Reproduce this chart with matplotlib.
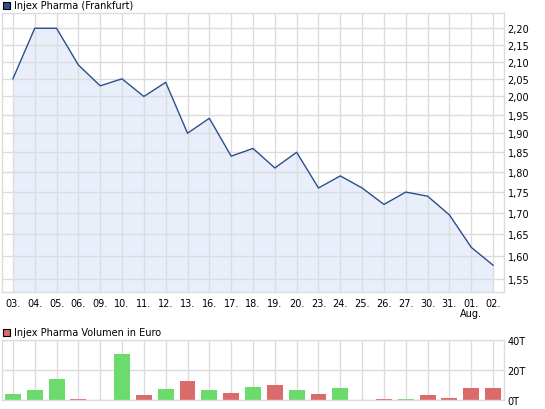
import matplotlib
matplotlib.use("Agg")
import matplotlib.pyplot as plt
from matplotlib.patches import Rectangle
from matplotlib.ticker import FixedLocator, FixedFormatter, NullLocator
import numpy as np

dates = ["03.", "04.", "05.", "06.", "09.", "10.", "11.", "12.", "13.", "16.", "17.", "18.",
         "19.", "20.", "23.", "24.", "25.", "26.", "27.", "30.", "31.", "01.\nAug.", "02."]
prices = [2.05, 2.20, 2.20, 2.09, 2.03, 2.05, 2.00, 2.04, 1.90, 1.94, 1.84, 1.86,
          1.81, 1.85, 1.76, 1.79, 1.76, 1.72, 1.75, 1.74, 1.695, 1.62, 1.58]
volumes = [4000, 6700, 14000, 700, 0, 30700, 3300, 7300, 12700, 6700, 4700, 8700,
           10000, 6700, 4000, 8000, 0, 700, 700, 3300, 1300, 8000, 8000]
vol_up = [True, True, True, False, True, True, False, True, False, True, False, True,
          False, True, False, True, True, False, True, False, False, False, False]
price_ticks = [1.55, 1.60, 1.65, 1.70, 1.75, 1.80, 1.85, 1.90, 1.95, 2.00, 2.05, 2.10, 2.15, 2.20]
price_labels = ["1,55", "1,60", "1,65", "1,70", "1,75", "1,80", "1,85", "1,90", "1,95",
                "2,00", "2,05", "2,10", "2,15", "2,20"]
vol_ticks = [0, 20000, 40000]
vol_labels = ["0T", "20T", "40T"]

W, H = 545, 410
fig = plt.figure(figsize=(W / 100, H / 100), dpi=100)
plt.rcParams['font.family'] = ['DejaVu Sans']

GRID = "#DCDCDC"
LINE = "#2B4F8E"
FILL = "#E8EFFA"
GREEN = "#6BDB6B"
RED = "#DB6B6B"

def px_axes(left, top, right, bottom):
    return fig.add_axes([left / W, 1 - bottom / H, (right - left) / W, (bottom - top) / H])

x = np.arange(len(dates))

# Price chart
ax = px_axes(2, 13.5, 504, 293)
ax.set_yscale("log")
ymin, ymax = 1.522, 2.249
ax.fill_between(x, prices, ymin, color=FILL, zorder=1, linewidth=0)
ax.plot(x, prices, color=LINE, lw=1.0, zorder=2)
ax.set_xlim(-0.5, len(dates) - 0.5)
ax.set_ylim(ymin, ymax)
ax.yaxis.set_major_locator(FixedLocator(price_ticks))
ax.yaxis.set_major_formatter(FixedFormatter(price_labels))
ax.yaxis.set_minor_locator(NullLocator())
ax.set_xticks(x)
ax.set_xticklabels(dates, fontsize=7, linespacing=1.0)
ax.yaxis.tick_right()
ax.tick_params(axis="y", length=0, pad=2.5, labelsize=7)
ax.tick_params(axis="x", length=0, pad=4, labelsize=7)
ax.set_axisbelow("line")
ax.grid(True, color=GRID, lw=1)
for s in ax.spines.values():
    s.set_color(GRID)
    s.set_linewidth(1)

# Volume chart
av = px_axes(2, 341, 504, 401)
colors = [GREEN if u else RED for u in vol_up]
av.bar(x, volumes, width=0.73, color=colors, zorder=2)
av.set_xlim(-0.5, len(dates) - 0.5)
av.set_ylim(0, 40000)
av.set_xticks(x)
av.set_xticklabels([])
av.yaxis.set_major_locator(FixedLocator(vol_ticks))
av.yaxis.set_major_formatter(FixedFormatter(vol_labels))
av.yaxis.tick_right()
av.tick_params(axis="y", length=0, pad=2.5, labelsize=7)
av.tick_params(axis="x", length=0)
av.set_axisbelow(True)
av.grid(True, color=GRID, lw=1)
for s in av.spines.values():
    s.set_color(GRID)
    s.set_linewidth(1)

# Legends
def legend(ypx, color, text):
    fig.patches.append(Rectangle((3 / W, 1 - (ypx + 3.5) / H), 7 / W, 7 / H,
                                 transform=fig.transFigure, facecolor=color,
                                 edgecolor="black", linewidth=0.8))
    fig.text(13.5 / W, 1 - ypx / H, text, fontsize=7, va="center", ha="left")

legend(6, "#2B4F8E", "Injex Pharma (Frankfurt)")
legend(333, RED, "Injex Pharma Volumen in Euro")

fig.savefig("out.png", dpi=100)
